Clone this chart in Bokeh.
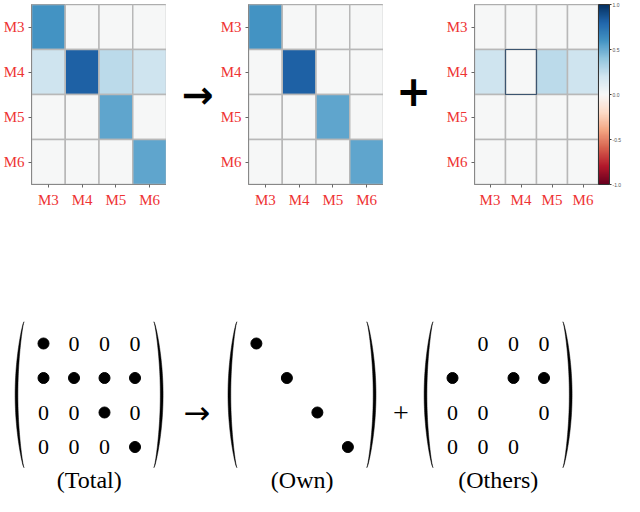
import numpy as np
from bokeh.plotting import figure
from bokeh.models import (LinearColorMapper, ColorBar, FixedTicker, PrintfTickFormatter,
                          ColumnDataSource, Range1d, FactorRange)
from bokeh.layouts import row, column
from bokeh.embed import file_html
from bokeh.resources import INLINE
from bokeh.core.properties import value
from bokeh.palettes import RdBu11

# ---------------- data ----------------
LABELS = ["M3", "M4", "M5", "M6"]
TOTAL = [[0.60, 0.00, 0.00, 0.00],
         [0.21, 0.82, 0.27, 0.21],
         [0.00, 0.00, 0.53, 0.00],
         [0.00, 0.00, 0.00, 0.53]]
OWN = [[0.60, 0.00, 0.00, 0.00],
       [0.00, 0.82, 0.00, 0.00],
       [0.00, 0.00, 0.53, 0.00],
       [0.00, 0.00, 0.00, 0.53]]
OTHERS = [[0.00, 0.00, 0.00, 0.00],
          [0.21, 0.00, 0.27, 0.21],
          [0.00, 0.00, 0.00, 0.00],
          [0.00, 0.00, 0.00, 0.00]]
OTHERS_OUTLINED = [("M4", "M4")]
CBAR_TICKS = [-1.0, -0.5, 0.0, 0.5, 1.0]

TOTAL_SYM = [["dot", "0", "0", "0"],
             ["dot", "dot", "dot", "dot"],
             ["0", "0", "dot", "0"],
             ["0", "0", "0", "dot"]]
OWN_SYM = [["dot", "", "", ""],
           ["", "dot", "", ""],
           ["", "", "dot", ""],
           ["", "", "", "dot"]]
OTHERS_SYM = [["", "0", "0", "0"],
              ["dot", "", "dot", "dot"],
              ["0", "0", "", "0"],
              ["0", "0", "0", ""]]
PANEL_NAMES = ["(Total)", "(Own)", "(Others)"]

# ---------------- colour map ----------------
base = list(reversed(RdBu11))  # red (-1) -> blue (+1)
rgb = np.array([[int(c[i:i + 2], 16) for i in (1, 3, 5)] for c in base], float)
pos = np.linspace(0, 1, len(base))
tt = np.linspace(0, 1, 256)
palette = ['#%02x%02x%02x' % tuple(int(round(np.interp(t, pos, rgb[:, k]))) for k in range(3)) for t in tt]
mapper = LinearColorMapper(palette=palette, low=-1, high=1)

TOP_H = 210
SERIF = value("Liberation Serif")


def heatmap(mat, width, left, right=0, top=2, outlined=()):
    xs, ys, vs = [], [], []
    for i, rl in enumerate(LABELS):
        for j, cl in enumerate(LABELS):
            xs.append(cl)
            ys.append(rl)
            vs.append(mat[i][j])
    src = ColumnDataSource(dict(x=xs, y=ys, v=vs))
    p = figure(width=width, height=TOP_H, x_range=FactorRange(*LABELS),
               y_range=FactorRange(*LABELS[::-1]), output_backend="svg",
               toolbar_location=None, min_border_left=left, min_border_right=right,
               min_border_top=top, min_border_bottom=TOP_H - 186)
    p.rect("x", "y", 1, 1, source=src, fill_color={"field": "v", "transform": mapper},
           line_color="#b8b8b8", line_width=1.5)
    if outlined:
        p.rect([c for r, c in outlined], [r for r, c in outlined], 1, 1,
               fill_color=None, line_color="#3c5570", line_width=1.2)
    p.grid.visible = False
    p.outline_line_color = "#888888"
    p.axis.major_label_text_color = "#ee3333"
    p.axis.major_label_text_font = "Liberation Serif"
    p.axis.major_label_text_font_size = "15px"
    p.axis.major_tick_out = 3
    p.axis.major_tick_in = 0
    p.axis.major_tick_line_color = "#666666"
    p.axis.axis_line_color = "#888888"
    p.axis.major_label_standoff = 4
    return p


def deco(width, txt, xf, yf, size, font, style="normal"):
    p = figure(width=width, height=TOP_H, x_range=Range1d(0, 1), y_range=Range1d(0, 1),
               output_backend="svg", toolbar_location=None, min_border=0,
               x_axis_location=None, y_axis_location=None)
    p.outline_line_color = None
    p.grid.visible = False
    p.text(x=[xf], y=[yf], text=[txt], text_font=value(font), text_font_size=size,
           text_font_style=style, text_align="center", text_baseline="middle", text_color="black")
    return p


f1 = heatmap(TOTAL, 166, 28, top=4)
fa = deco(51, "→", 0.61, 0.495, "38px", "DejaVu Sans", "bold")
f2 = heatmap(OWN, 166, 30, top=1)
fp = deco(60, "+", 0.5, 0.52, "42px", "DejaVu Sans", "bold")
f3 = heatmap(OTHERS, 181, 30, right=20, top=4, outlined=OTHERS_OUTLINED)
cb = ColorBar(color_mapper=mapper, ticker=FixedTicker(ticks=CBAR_TICKS),
              formatter=PrintfTickFormatter(format="%.1f"), width=11, padding=0, margin=4,
              label_standoff=1, major_label_text_font_size="5px", major_label_text_color="#555555",
              major_tick_line_color="#333333", major_tick_in=0, major_tick_out=2,
              bar_line_color="#333333", border_line_color=None, background_fill_alpha=0)
f3.add_layout(cb, "right")

# ---------------- bottom: symbolic matrices ----------------
COL_PX, ROW_PX = 30.5, 34.5
BW, BH = 624, 496 - TOP_H
ROW0 = 343 - TOP_H
x_start = -43 / COL_PX
y_top = -ROW0 / ROW_PX
fb = figure(width=BW, height=BH, x_range=Range1d(x_start, x_start + BW / COL_PX),
            y_range=Range1d(y_top + BH / ROW_PX, y_top), output_backend="svg",
            toolbar_location=None, min_border=0, x_axis_location=None, y_axis_location=None)
fb.outline_line_color = None
fb.grid.visible = False

OFFSETS = [0.0, 6.98, 13.41]
dx, dy, zx, zy = [], [], [], []
for off, sym in zip(OFFSETS, [TOTAL_SYM, OWN_SYM, OTHERS_SYM]):
    for i in range(4):
        for j in range(4):
            if sym[i][j] == "dot":
                dx.append(off + j)
                dy.append(i)
            elif sym[i][j] == "0":
                zx.append(off + j)
                zy.append(i)
fb.scatter(dx, dy, size=11, color="black")
fb.text(x=zx, y=zy, text=["0"] * len(zx), text_font=SERIF, text_font_size="22px",
        text_align="center", text_baseline="middle", text_color="black")

t = np.linspace(0, 1, 80)
bow = np.sin(np.pi * t) ** 0.75
ytop, ybot = -0.63, 3.60
yy = ytop + (ybot - ytop) * t
for off in OFFSETS:
    for xend, xout, xin in [(off - 0.64, off - 0.93, off - 0.84),
                            (off + 3.62, off + 3.92, off + 3.83)]:
        outer = xend + (xout - xend) * bow
        inner = xend + (xin - xend) * bow
        fb.patch(np.concatenate([outer, inner[::-1]]), np.concatenate([yy, yy[::-1]]),
                 fill_color="black", line_color="black", line_width=0.5)

fb.text(x=[o + 1.5 for o in OFFSETS], y=[3.97] * 3, text=PANEL_NAMES, text_font=SERIF,
        text_font_size="24px", text_align="center", text_baseline="middle", text_color="black")
fb.text(x=[5.03], y=[2.0], text=["→"], text_font=value("DejaVu Sans"), text_font_size="32px",
        text_align="center", text_baseline="middle", text_color="black")
fb.text(x=[11.72], y=[2.0], text=["+"], text_font=SERIF, text_font_size="28px",
        text_align="center", text_baseline="middle", text_color="black")

layout = column(row(f1, fa, f2, fp, f3), fb)
open("out.html", "w").write(file_html(layout, INLINE))
